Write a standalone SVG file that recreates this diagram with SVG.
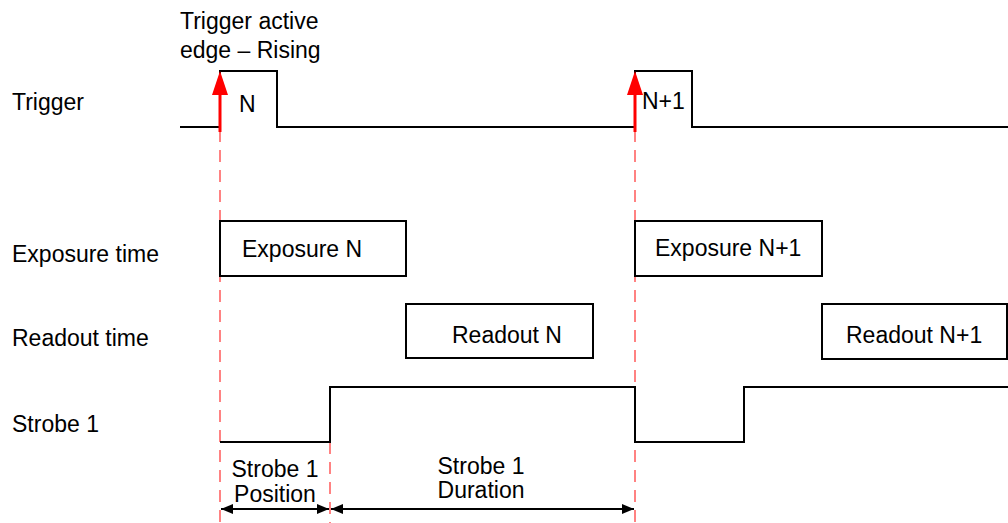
<svg xmlns="http://www.w3.org/2000/svg" width="1008" height="523" viewBox="0 0 1008 523">
<defs>
<style>
text{font-family:"Liberation Sans",Arial,sans-serif;font-size:23px;fill:#000}
.sig{fill:none;stroke:#000;stroke-width:2}
.box{fill:#fff;stroke:#000;stroke-width:2}
.dash{fill:none;stroke:#ff3030;stroke-width:1.2;stroke-dasharray:12 8}
.red{stroke:#ff0000;stroke-width:3;fill:none}
.dim{stroke:#000;stroke-width:2;fill:none}
</style>
<marker id="ah" viewBox="0 0 12 10" refX="12" refY="5" markerWidth="12" markerHeight="10" markerUnits="userSpaceOnUse" orient="auto-start-reverse">
<path d="M0,0 L12,5 L0,10 Z" fill="#000"/>
</marker>
</defs>
<rect width="1008" height="523" fill="#fff"/>
<g id="labels">
<text x="12" y="110">Trigger</text>
<text x="12" y="262">Exposure time</text>
<text x="12" y="346">Readout time</text>
<text x="12" y="432">Strobe 1</text>
<text x="180" y="29">Trigger active</text>
<text x="180" y="58">edge – Rising</text>
</g>
<g id="guides">
<line class="dash" x1="220" y1="130" x2="220" y2="523"/>
<line class="dash" x1="330" y1="442" x2="330" y2="523"/>
<line class="dash" x1="635" y1="130" x2="635" y2="523"/>
</g>
<g id="trigger">
<path class="sig" d="M180,127 H220 V71 H277 V127 H635 V71 H692 V127 H1008"/>
<text x="239" y="112">N</text>
<text x="642" y="109">N+1</text>
</g>
<g id="trigger-edges">
<line class="red" x1="220" y1="132" x2="220" y2="90"/>
<path d="M220,71 L228,95 L212,95 Z" fill="#ff0000"/>
<line class="red" x1="635" y1="132" x2="635" y2="90"/>
<path d="M635,71 L643,95 L627,95 Z" fill="#ff0000"/>
</g>
<g id="exposure-n">
<rect class="box" x="220" y="221" width="186" height="55"/>
<text x="242" y="257">Exposure N</text>
</g>
<g id="exposure-n1">
<rect class="box" x="635" y="221" width="187" height="55"/>
<text x="655" y="256">Exposure N+1</text>
</g>
<g id="readout-n">
<rect class="box" x="406" y="304" width="187" height="54"/>
<text x="452" y="343">Readout N</text>
</g>
<g id="readout-n1">
<rect class="box" x="822" y="304" width="185" height="55"/>
<text x="846" y="343">Readout N+1</text>
</g>
<g id="strobe">
<path class="sig" d="M220,442 H330 V387 H635 V442 H744 V387 H1008"/>
</g>
<g id="connectors">
<line class="dim" x1="221" y1="509" x2="329" y2="509" marker-start="url(#ah)" marker-end="url(#ah)"/>
<line class="dim" x1="331" y1="509" x2="634" y2="509" marker-start="url(#ah)" marker-end="url(#ah)"/>
</g>
<g id="dim-labels">
<text x="275" y="477" text-anchor="middle">Strobe 1</text>
<text x="275" y="502" text-anchor="middle">Position</text>
<text x="481" y="474" text-anchor="middle">Strobe 1</text>
<text x="481" y="498" text-anchor="middle">Duration</text>
</g>
</svg>
